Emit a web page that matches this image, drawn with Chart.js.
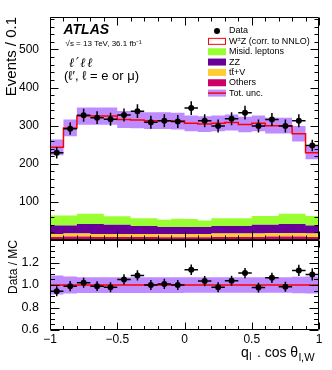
<!DOCTYPE html>
<html>
<head>
<meta charset="utf-8">
<script src="https://cdn.jsdelivr.net/npm/chart.js@4.4.0/dist/chart.umd.min.js"></script>
<style>
  body { margin: 0; background: #fff; }
  #wrap { position: relative; width: 332px; height: 370px; }
  canvas { position: absolute; left: 0; top: 0; }
</style>
</head>
<body>
<div id="wrap">
  <canvas id="mainChart" width="332" height="370"></canvas>
  <canvas id="ratioChart" width="332" height="370"></canvas>
</div>
<script>
// bins of q_l . cos theta_l,W
var binEdges = [-1, -0.9, -0.8, -0.7, -0.6, -0.5, -0.4, -0.3, -0.2, -0.1, 0, 0.1, 0.2, 0.3, 0.4, 0.5, 0.6, 0.7, 0.8, 0.9, 1];

// events per bin
var dataCounts = [229, 292, 327, 321, 317, 328, 338, 309, 313, 311, 346, 313, 299, 318, 334, 299, 316, 299, 313, 248];
var dataErr = [15, 16, 17, 17, 17, 17, 18, 17, 17, 17, 18, 17, 17, 17, 18, 17, 17, 17, 17, 15];
var mcTotal = [243, 294, 325, 325, 325, 316, 315, 313, 313, 312, 306, 304, 306, 308, 303, 306, 300, 300, 279, 229];
var mcRelUnc = [0.085, 0.075, 0.07, 0.07, 0.07, 0.07, 0.07, 0.07, 0.07, 0.07, 0.068, 0.068, 0.068, 0.068, 0.068, 0.068, 0.068, 0.068, 0.073, 0.075];

// backgrounds (stacked, bottom first)
var others = [8, 9, 9, 8, 8, 8, 8, 8, 7, 7, 7, 7, 8, 8, 8, 8, 9, 9, 9, 8];
var ttV = [8, 8, 8, 8, 8, 8, 8, 8, 8, 8, 9, 9, 9, 9, 9, 9, 9, 9, 9, 9];
var zz = [22, 21, 25, 26, 24, 24, 21, 21, 19, 19, 18, 18, 20, 20, 20, 23, 22, 24, 24, 21];
var misid = [26, 26, 27, 27, 22, 22, 20, 20, 19, 22, 21, 17, 20, 20, 20, 23, 23, 27, 27, 25];

// data / MC
var ratio = [0.945, 0.99, 1.02, 0.99, 0.98, 1.05, 1.085, 1.0, 1.01, 1.0, 1.135, 1.035, 0.98, 1.038, 1.106, 0.977, 1.064, 0.985, 1.13, 1.094];
var ratioErr = [0.045, 0.045, 0.044, 0.044, 0.044, 0.045, 0.046, 0.045, 0.045, 0.045, 0.047, 0.045, 0.044, 0.045, 0.046, 0.044, 0.046, 0.044, 0.05, 0.055];

// tick labels
var mainYTicks = [100, 200, 300, 400, 500];
var ratioYTicks = [0.6, 0.8, 1, 1.2];
var xTicks = [-1, -0.5, 0, 0.5, 1];

var colMisid = '#99ff33';
var colZZ = '#660099';
var colTtV = '#ffcc33';
var colOthers = '#cc0066';
var colUnc = '#bf8cff';
var colMC = '#ff0000';
var FONT = '"Liberation Sans", Arial, Helvetica, sans-serif';

Chart.defaults.font.family = FONT;
Chart.defaults.color = '#000';

// histogram as step points on the bin edges
function steps(vals) {
  var pts = vals.map(function(v, i) { return {x: binEdges[i], y: v}; });
  pts.push({x: binEdges[vals.length], y: vals[vals.length - 1]});
  return pts;
}
function centres(vals) {
  return vals.map(function(v, i) { return {x: (binEdges[i] + binEdges[i + 1]) / 2, y: v}; });
}
function errorBars(vals, errs) {
  var pts = [];
  vals.forEach(function(v, i) {
    var c = (binEdges[i] + binEdges[i + 1]) / 2;
    pts.push({x: binEdges[i], y: v}, {x: binEdges[i + 1], y: v}, {x: c, y: null});
    pts.push({x: c, y: v - errs[i]}, {x: c, y: v + errs[i]}, {x: c, y: null});
  });
  return pts;
}
function scaled(vals, rel, sign) {
  return vals.map(function(v, i) { return v * (1 + sign * rel[i]); });
}

function eachTick(min, max, step, fn) {
  var n0 = Math.ceil(min / step - 1e-6), n1 = Math.floor(max / step + 1e-6);
  for (var n = n0; n <= n1; n++) fn(n * step);
}
function isMajor(v, major) {
  var r = v / major;
  return Math.abs(r - Math.round(r)) < 1e-6;
}

// ROOT style frame with inward ticks on all four sides
var framePlugin = {
  id: 'frame',
  afterDraw: function(chart, args, o) {
    var ctx = chart.ctx, a = chart.chartArea;
    var xs = chart.scales.x, ys = chart.scales.y;
    var L = a.left + 0.5, R = a.right - 0.5, T = a.top + 0.5, B = a.bottom - 0.5;
    ctx.save();
    ctx.strokeStyle = '#000';
    ctx.lineWidth = 1;
    ctx.beginPath();
    ctx.rect(L, T, R - L, B - T);
    eachTick(xs.min, xs.max, o.xMinor, function(v) {
      var p = Math.round(xs.getPixelForValue(v)) + 0.5;
      var len = isMajor(v, o.xMajor) ? o.xLen[1] : o.xLen[0];
      ctx.moveTo(p, B); ctx.lineTo(p, B - len);
      ctx.moveTo(p, T); ctx.lineTo(p, T + len);
    });
    eachTick(ys.min, ys.max, o.yMinor, function(v) {
      var p = Math.round(ys.getPixelForValue(v)) + 0.5;
      var len = isMajor(v, o.yMajor) ? o.yLen[1] : o.yLen[0];
      ctx.moveTo(L, p); ctx.lineTo(L + len, p);
      ctx.moveTo(R, p); ctx.lineTo(R - len, p);
    });
    ctx.stroke();
    ctx.restore();
  }
};

// ATLAS label and legend
var labelPlugin = {
  id: 'labels',
  afterDraw: function(chart) {
    var ctx = chart.ctx;
    ctx.save();
    ctx.fillStyle = '#000';
    ctx.textBaseline = 'alphabetic';
    ctx.textAlign = 'left';
    ctx.font = 'italic bold 14px ' + FONT;
    ctx.fillText('ATLAS', 63.5, 33.5);
    ctx.font = '8px ' + FONT;
    ctx.fillText('\u221As = 13 TeV, 36.1 fb\u207B\u00B9', 65.5, 45.5);
    ctx.font = 'italic 13px "DejaVu Serif", serif';
    ctx.letterSpacing = '1.5px';
    ctx.fillText('\u2113\u2032\u2113\u2113', 69, 66.5);
    ctx.letterSpacing = '0px';
    ctx.font = '13px ' + FONT;
    ctx.fillText('(\u2113\u2032, \u2113 = e or \u03BC)', 64, 80);

    var rows = [
      {text: 'Data', kind: 'marker'},
      {text: 'W\u00B1Z (corr. to NNLO)', kind: 'outline'},
      {text: 'Misid. leptons', kind: 'box', color: colMisid},
      {text: 'ZZ', kind: 'box', color: colZZ},
      {text: 'tt\u0304+V', kind: 'box', color: colTtV},
      {text: 'Others', kind: 'box', color: colOthers},
      {text: 'Tot. unc.', kind: 'unc'}
    ];
    var bx = 208, bw = 18, bh = 7, tx = 229;
    ctx.textBaseline = 'middle';
    rows.forEach(function(r, i) {
      var y = 31 + i * 10.35;
      if (r.kind === 'marker') {
        ctx.fillStyle = '#000';
        ctx.beginPath();
        ctx.arc(bx + bw / 2, y, 3, 0, Math.PI * 2);
        ctx.fill();
      } else if (r.kind === 'outline') {
        ctx.fillStyle = '#fff';
        ctx.fillRect(bx, y - bh / 2, bw, bh);
        ctx.strokeStyle = colMC;
        ctx.lineWidth = 1;
        ctx.strokeRect(bx + 0.5, y - bh / 2 + 0.5, bw - 1, bh - 1);
      } else if (r.kind === 'box') {
        ctx.fillStyle = r.color;
        ctx.fillRect(bx, y - bh / 2, bw, bh);
      } else {
        ctx.fillStyle = colUnc;
        ctx.fillRect(bx, y - bh / 2, bw, bh);
        ctx.strokeStyle = colMC;
        ctx.lineWidth = 1.5;
        ctx.beginPath();
        ctx.moveTo(bx, y); ctx.lineTo(bx + bw, y);
        ctx.stroke();
      }
      ctx.fillStyle = '#000';
      ctx.font = '9px ' + FONT;
      if (r.kind === 'outline') {
        ctx.fillText('W', tx, y);
        var w = ctx.measureText('W').width;
        ctx.font = '6px ' + FONT;
        ctx.fillText('\u00B1', tx + w, y - 2.5);
        var w2 = ctx.measureText('\u00B1').width;
        ctx.font = '9px ' + FONT;
        ctx.fillText('Z (corr. to NNLO)', tx + w + w2, y);
      } else {
        ctx.fillText(r.text, tx, y);
      }
    });
    ctx.restore();
  }
};

// x axis title with subscripts
var xTitlePlugin = {
  id: 'xtitle',
  afterDraw: function(chart) {
    var ctx = chart.ctx;
    ctx.save();
    ctx.fillStyle = '#000';
    ctx.textBaseline = 'alphabetic';
    ctx.textAlign = 'left';
    var x = 241, y = 357;
    ctx.font = '14px ' + FONT;
    ctx.fillText('q', x, y);
    x += ctx.measureText('q').width;
    ctx.font = '10px ' + FONT;
    ctx.fillText('l', x + 0.5, y + 3);
    x += ctx.measureText('l').width + 2;
    ctx.font = '14px ' + FONT;
    ctx.fillText(' . cos \u03B8', x, y);
    x += ctx.measureText(' . cos \u03B8').width;
    ctx.font = '11px ' + FONT;
    ctx.fillText('l,W', x + 0.5, y + 3.5);
    ctx.restore();
  }
};

function minusSign(v) {
  return String(v).replace('-', '\u2212');
}

window.onload = function() {
  var ctxMain = document.getElementById('mainChart').getContext('2d');
  var ctxRatio = document.getElementById('ratioChart').getContext('2d');

  var hidden = 'rgba(0,0,0,0)';

  var mainChart = new Chart(ctxMain, {
    type: 'line',
    data: {
      datasets: [
        {label: 'Others', data: steps(others), stack: 'bkg', stepped: true, fill: 'origin',
         backgroundColor: colOthers, borderColor: hidden, borderWidth: 0, pointRadius: 0, order: 5},
        {label: 'tt+V', data: steps(ttV), stack: 'bkg', stepped: true, fill: '-1',
         backgroundColor: colTtV, borderColor: hidden, borderWidth: 0, pointRadius: 0, order: 6},
        {label: 'ZZ', data: steps(zz), stack: 'bkg', stepped: true, fill: '-1',
         backgroundColor: colZZ, borderColor: hidden, borderWidth: 0, pointRadius: 0, order: 7},
        {label: 'Misid. leptons', data: steps(misid), stack: 'bkg', stepped: true, fill: '-1',
         backgroundColor: colMisid, borderColor: hidden, borderWidth: 0, pointRadius: 0, order: 8},
        {label: 'unc low', data: steps(scaled(mcTotal, mcRelUnc, -1)), stepped: true, fill: false,
         borderColor: hidden, borderWidth: 0, pointRadius: 0, order: 4},
        {label: 'Tot. unc.', data: steps(scaled(mcTotal, mcRelUnc, 1)), stepped: true, fill: '-1',
         backgroundColor: colUnc, borderColor: hidden, borderWidth: 0, pointRadius: 0, order: 3},
        {label: 'WZ', data: steps(mcTotal), stepped: true, fill: false,
         borderColor: colMC, borderWidth: 1.5, pointRadius: 0, order: 2},
        {label: 'Data err', data: errorBars(dataCounts, dataErr), spanGaps: false, fill: false,
         borderColor: '#000', borderWidth: 1.5, pointRadius: 0, order: 1},
        {label: 'Data', data: centres(dataCounts), showLine: false,
         pointRadius: 3, pointBackgroundColor: '#000', pointBorderWidth: 0, order: 0}
      ]
    },
    options: {
      responsive: false,
      animation: false,
      events: [],
      layout: {padding: {top: 17, right: 13, left: 0, bottom: 0}},
      plugins: {
        legend: {display: false},
        tooltip: {enabled: false},
        frame: {xMinor: 0.1, xMajor: 0.5, yMinor: 20, yMajor: 100, xLen: [4, 8], yLen: [4, 8]}
      },
      scales: {
        x: {
          type: 'linear', min: -1, max: 1,
          grid: {display: false}, border: {display: false},
          ticks: {display: false},
          afterFit: function(s) { s.height = 130; }
        },
        y: {
          type: 'linear', min: 0, max: 585,
          grid: {display: false}, border: {display: false},
          ticks: {padding: 3, font: {size: 12}, color: '#000', autoSkip: false},
          afterBuildTicks: function(s) { s.ticks = mainYTicks.map(function(v) { return {value: v}; }); },
          afterFit: function(s) { s.width = 50; },
          title: {display: true, text: 'Events / 0.1', align: 'end', color: '#000',
                  font: {size: 15}, padding: {top: 2.5, bottom: 0}}
        }
      }
    },
    plugins: [framePlugin, labelPlugin]
  });

  var ratioChart = new Chart(ctxRatio, {
    type: 'line',
    data: {
      datasets: [
        {label: 'unc low', data: steps(scaled(ratio.map(function() { return 1; }), mcRelUnc, -1)), stepped: true, fill: false,
         borderColor: hidden, borderWidth: 0, pointRadius: 0, order: 4},
        {label: 'Tot. unc.', data: steps(scaled(ratio.map(function() { return 1; }), mcRelUnc, 1)), stepped: true, fill: '-1',
         backgroundColor: colUnc, borderColor: hidden, borderWidth: 0, pointRadius: 0, order: 3},
        {label: 'MC', data: steps(mcTotal.map(function(v) { return v / v; })), stepped: true, fill: false,
         borderColor: colMC, borderWidth: 1.5, pointRadius: 0, order: 2},
        {label: 'Ratio err', data: errorBars(ratio, ratioErr), spanGaps: false, fill: false,
         borderColor: '#000', borderWidth: 1.5, pointRadius: 0, order: 1},
        {label: 'Data / MC', data: centres(ratio), showLine: false,
         pointRadius: 3, pointBackgroundColor: '#000', pointBorderWidth: 0, order: 0}
      ]
    },
    options: {
      responsive: false,
      animation: false,
      events: [],
      layout: {padding: {top: 240, right: 13, left: 0, bottom: 0}},
      plugins: {
        legend: {display: false},
        tooltip: {enabled: false},
        frame: {xMinor: 0.1, xMajor: 0.5, yMinor: 0.05, yMajor: 0.2, xLen: [3.5, 7], yLen: [4.5, 9]}
      },
      scales: {
        x: {
          type: 'linear', min: -1, max: 1,
          grid: {display: false}, border: {display: false},
          ticks: {padding: -6, font: {size: 12}, color: '#000', autoSkip: false, maxRotation: 0, callback: minusSign},
          afterBuildTicks: function(s) { s.ticks = xTicks.map(function(v) { return {value: v}; }); },
          afterFit: function(s) { s.height = 40; }
        },
        y: {
          type: 'linear', min: 0.6, max: 1.4,
          grid: {display: false}, border: {display: false},
          ticks: {padding: 3, font: {size: 12.5}, color: '#000', autoSkip: false},
          afterBuildTicks: function(s) { s.ticks = ratioYTicks.map(function(v) { return {value: v}; }); },
          afterFit: function(s) { s.width = 50; },
          title: {display: true, text: 'Data / MC', align: 'end', color: '#000',
                  font: {size: 12}, padding: {top: 6.5, bottom: 0}}
        }
      }
    },
    plugins: [framePlugin, xTitlePlugin]
  });
};
</script>
</body>
</html>
